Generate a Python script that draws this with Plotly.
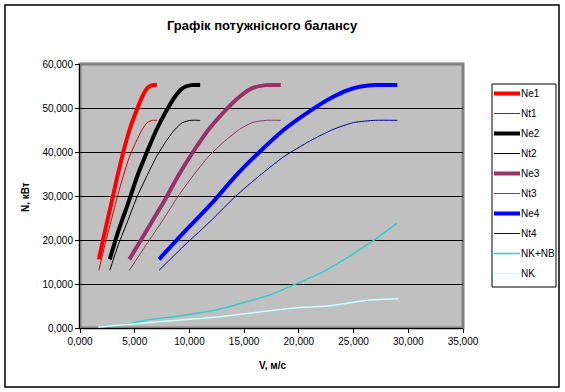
import plotly.graph_objects as go

# Engine power points (common for all gears), kW
ne_vals = [15600, 22000, 28500, 34500, 40000, 45000, 49300, 52500, 54500, 55200, 55200]
nt_vals = [13100, 18900, 24700, 29900, 34600, 38900, 42500, 45100, 46700, 47200, 47200]

# Speeds for each gear
v_gear1 = [1720, 2280, 2880, 3420, 3960, 4520, 5150, 5680, 6150, 6600, 7030]
v_gear2 = [2720, 3500, 4420, 5230, 6120, 6980, 7880, 8660, 9380, 10150, 10980]
v_gear3 = [4510, 6050, 7620, 8950, 10330, 11720, 13230, 14550, 15750, 17010, 18350]
v_gear4 = [7220, 9600, 12100, 14200, 16400, 18600, 21000, 23100, 25000, 27000, 29000]

# Resistance powers
v_nknb = [1672, 3957, 6095, 8526, 10664, 12793, 15233, 17362, 19490, 21930, 24060, 26655, 28940]
nknb_vals = [250, 680, 1820, 2570, 3340, 4320, 5980, 7500, 9770, 12430, 15450, 19620, 23800]
v_nk = [1672, 4570, 9138, 12793, 14620, 17362, 20405, 22846, 26500, 29090]
nk_vals = [200, 840, 1820, 2570, 3110, 3940, 4700, 5070, 6360, 6660]

x_ticks = [0, 5000, 10000, 15000, 20000, 25000, 30000, 35000]
x_ticktext = ["0,000", "5,000", "10,000", "15,000", "20,000", "25,000", "30,000", "35,000"]
y_ticks = [0, 10000, 20000, 30000, 40000, 50000, 60000]
y_ticktext = ["0,000", "10,000", "20,000", "30,000", "40,000", "50,000", "60,000"]

series = [
    ("Ne1", v_gear1, ne_vals, "#FF0000", 4),
    ("Nt1", v_gear1, nt_vals, "#D40000", 1),
    ("Ne2", v_gear2, ne_vals, "#000000", 4),
    ("Nt2", v_gear2, nt_vals, "#000000", 1),
    ("Ne3", v_gear3, ne_vals, "#993366", 4),
    ("Nt3", v_gear3, nt_vals, "#8B3A62", 1),
    ("Ne4", v_gear4, ne_vals, "#0000FF", 4),
    ("Nt4", v_gear4, nt_vals, "#000099", 1),
    ("NK+NB", v_nknb, nknb_vals, "#33CCCC", 1.5),
    ("NK", v_nk, nk_vals, "#CCFFFF", 1.5),
]

# plot area in pixels (for placing paper-referenced decorations)
PX_L, PX_R, PX_T, PX_B = 80, 463, 64, 328


def px_x(px):
    return (px - PX_L) / (PX_R - PX_L)


def px_y(py):
    return (PX_B - py) / (PX_B - PX_T)


fig = go.Figure()
for name, xs, ys, color, w in series:
    fig.add_trace(go.Scatter(
        x=xs, y=ys, mode="lines", name=name,
        line=dict(color=color, width=w, shape="spline", smoothing=0.6),
    ))

font_family = "Liberation Sans, Arial, sans-serif"

shapes = [
    dict(type="rect", xref="paper", yref="paper", x0=0, x1=1, y0=0, y1=1,
         line=dict(color="#808080", width=3), layer="below"),
    dict(type="rect", xref="paper", yref="paper", x0=px_x(5), x1=px_x(559),
         y0=px_y(387), y1=px_y(5), line=dict(color="black", width=1.5)),
    # legend box
    dict(type="rect", xref="paper", yref="paper", x0=px_x(492), x1=px_x(556),
         y0=px_y(287), y1=px_y(84), line=dict(color="black", width=1),
         fillcolor="white"),
]

annotations = [
    dict(text="<b>Графік потужнісного балансу</b>", xref="paper", yref="paper",
         x=px_x(262), y=px_y(25), showarrow=False,
         font=dict(size=13), xanchor="center", yanchor="middle"),
    dict(text="<b>N, кВт</b>", xref="paper", yref="paper",
         x=px_x(25), y=px_y(197), showarrow=False, textangle=-90,
         font=dict(size=10), xanchor="center", yanchor="middle"),
    dict(text="<b>V, м/с</b>", xref="paper", yref="paper",
         x=px_x(272), y=px_y(365), showarrow=False,
         font=dict(size=10), xanchor="center", yanchor="middle"),
]

# legend entries
for i, (name, xs, ys, color, w) in enumerate(series):
    ly = 93.5 + i * 20
    shapes.append(dict(type="line", xref="paper", yref="paper",
                       x0=px_x(494), x1=px_x(520), y0=px_y(ly), y1=px_y(ly),
                       line=dict(color=color, width=w)))
    annotations.append(dict(text=name, xref="paper", yref="paper",
                            x=px_x(519), y=px_y(ly), showarrow=False,
                            xanchor="left", yanchor="middle",
                            font=dict(size=10)))

fig.update_layout(
    width=565, height=392,
    margin=dict(l=PX_L, r=565 - PX_R, t=PX_T, b=392 - PX_B),
    paper_bgcolor="white",
    plot_bgcolor="#C0C0C0",
    font=dict(family=font_family, size=10, color="black"),
    showlegend=False,
    hovermode=False,
    xaxis=dict(
        range=[0, 35000], tickvals=x_ticks, ticktext=x_ticktext,
        showgrid=False, zeroline=False, showline=True, linecolor="black", linewidth=1,
        ticks="outside", ticklen=4, tickcolor="black", tickfont=dict(size=10),
    ),
    yaxis=dict(
        range=[0, 60000], tickvals=y_ticks, ticktext=y_ticktext,
        showgrid=True, gridcolor="black", gridwidth=1, zeroline=False,
        showline=True, linecolor="black", linewidth=1,
        ticks="outside", ticklen=4, tickcolor="black", tickfont=dict(size=10),
    ),
    shapes=shapes,
    annotations=annotations,
)

fig.write_html(
    "out.html",
    config={"displayModeBar": False, "staticPlot": True},
    post_script="document.body.style.margin='0';document.body.style.overflow='hidden';",
)
